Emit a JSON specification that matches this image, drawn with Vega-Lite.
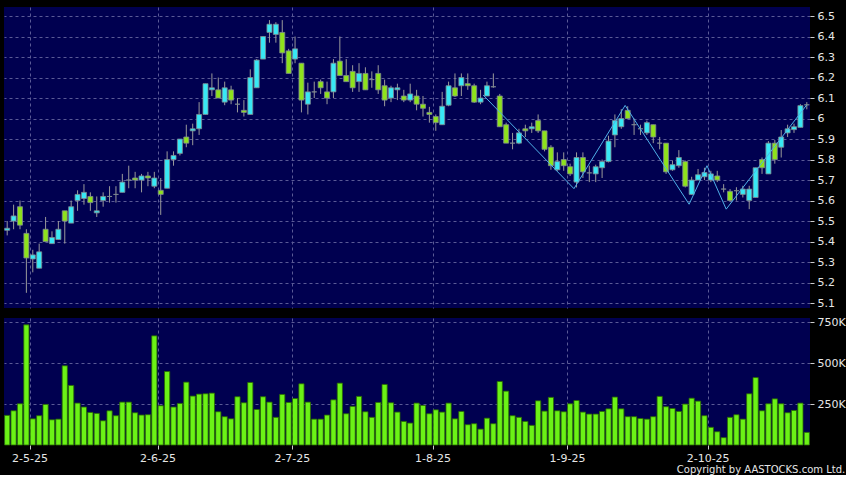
{
"$schema": "https://vega.github.io/schema/vega-lite/v6.json",
"background": "#000000",
"padding": {"left": 4, "top": 7, "right": 0, "bottom": 0},
"config": {
  "view": {"fill": "#000050", "stroke": null},
  "font": "DejaVu Sans",
  "axis": {"labelColor": "#e6e6e6", "labelFont": "DejaVu Sans", "labelFontSize": 11, "tickColor": "#cccccc", "domain": false, "gridColor": "#5a5a96", "gridDash": [3, 3], "gridWidth": 1, "title": null, "labelFlush": false, "labelOverlap": false}
},
"datasets": {
  "ohlc": [
    {"i":0,"o":5.455,"h":5.5,"l":5.43,"c":5.465,"v":181000},
    {"i":1,"o":5.5,"h":5.58,"l":5.46,"c":5.525,"v":209000},
    {"i":2,"o":5.57,"h":5.6,"l":5.46,"c":5.48,"v":252000},
    {"i":3,"o":5.44,"h":5.46,"l":5.15,"c":5.32,"v":734000},
    {"i":4,"o":5.315,"h":5.36,"l":5.25,"c":5.335,"v":160000},
    {"i":5,"o":5.27,"h":5.39,"l":5.27,"c":5.35,"v":179000},
    {"i":6,"o":5.46,"h":5.52,"l":5.4,"c":5.4,"v":248000},
    {"i":7,"o":5.39,"h":5.45,"l":5.39,"c":5.42,"v":154000},
    {"i":8,"o":5.41,"h":5.5,"l":5.41,"c":5.46,"v":158000},
    {"i":9,"o":5.55,"h":5.55,"l":5.39,"c":5.5,"v":484000},
    {"i":10,"o":5.49,"h":5.6,"l":5.49,"c":5.57,"v":364000},
    {"i":11,"o":5.6,"h":5.65,"l":5.55,"c":5.63,"v":256000},
    {"i":12,"o":5.61,"h":5.68,"l":5.58,"c":5.64,"v":232000},
    {"i":13,"o":5.62,"h":5.64,"l":5.55,"c":5.59,"v":199000},
    {"i":14,"o":5.54,"h":5.62,"l":5.52,"c":5.55,"v":193000},
    {"i":15,"o":5.6,"h":5.64,"l":5.57,"c":5.62,"v":148000},
    {"i":16,"o":5.62,"h":5.67,"l":5.59,"c":5.62,"v":209000},
    {"i":17,"o":5.63,"h":5.67,"l":5.59,"c":5.63,"v":179000},
    {"i":18,"o":5.64,"h":5.73,"l":5.64,"c":5.69,"v":262000},
    {"i":19,"o":5.7,"h":5.77,"l":5.66,"c":5.7,"v":262000},
    {"i":20,"o":5.71,"h":5.74,"l":5.66,"c":5.7,"v":197000},
    {"i":21,"o":5.7,"h":5.73,"l":5.64,"c":5.72,"v":183000},
    {"i":22,"o":5.72,"h":5.74,"l":5.67,"c":5.71,"v":185000},
    {"i":23,"o":5.67,"h":5.74,"l":5.66,"c":5.71,"v":667000},
    {"i":24,"o":5.65,"h":5.71,"l":5.53,"c":5.63,"v":240000},
    {"i":25,"o":5.66,"h":5.84,"l":5.66,"c":5.8,"v":449000},
    {"i":26,"o":5.8,"h":5.84,"l":5.77,"c":5.82,"v":232000},
    {"i":27,"o":5.83,"h":5.9,"l":5.82,"c":5.9,"v":254000},
    {"i":28,"o":5.91,"h":5.97,"l":5.86,"c":5.88,"v":384000},
    {"i":29,"o":5.94,"h":5.975,"l":5.87,"c":5.95,"v":299000},
    {"i":30,"o":5.95,"h":6.08,"l":5.92,"c":6.02,"v":311000},
    {"i":31,"o":6.02,"h":6.17,"l":6.02,"c":6.17,"v":313000},
    {"i":32,"o":6.14,"h":6.22,"l":6.11,"c":6.15,"v":317000},
    {"i":33,"o":6.14,"h":6.2,"l":6.1,"c":6.1,"v":203000},
    {"i":34,"o":6.08,"h":6.18,"l":6.065,"c":6.15,"v":173000},
    {"i":35,"o":6.14,"h":6.16,"l":6.07,"c":6.09,"v":160000},
    {"i":36,"o":6.07,"h":6.1,"l":6.03,"c":6.07,"v":295000},
    {"i":37,"o":6.04,"h":6.09,"l":6.01,"c":6.03,"v":258000},
    {"i":38,"o":6.02,"h":6.24,"l":6.02,"c":6.2,"v":382000},
    {"i":39,"o":6.15,"h":6.29,"l":6.15,"c":6.285,"v":217000},
    {"i":40,"o":6.29,"h":6.4,"l":6.29,"c":6.4,"v":295000},
    {"i":41,"o":6.42,"h":6.48,"l":6.37,"c":6.46,"v":262000},
    {"i":42,"o":6.41,"h":6.47,"l":6.37,"c":6.46,"v":169000},
    {"i":43,"o":6.42,"h":6.48,"l":6.27,"c":6.32,"v":309000},
    {"i":44,"o":6.33,"h":6.34,"l":6.22,"c":6.22,"v":260000},
    {"i":45,"o":6.29,"h":6.4,"l":6.27,"c":6.34,"v":284000},
    {"i":46,"o":6.27,"h":6.27,"l":6.03,"c":6.09,"v":374000},
    {"i":47,"o":6.07,"h":6.175,"l":6.02,"c":6.13,"v":262000},
    {"i":48,"o":6.13,"h":6.18,"l":6.1,"c":6.13,"v":158000},
    {"i":49,"o":6.18,"h":6.19,"l":6.12,"c":6.15,"v":158000},
    {"i":50,"o":6.13,"h":6.18,"l":6.07,"c":6.1,"v":183000},
    {"i":51,"o":6.13,"h":6.29,"l":6.1,"c":6.27,"v":276000},
    {"i":52,"o":6.28,"h":6.4,"l":6.21,"c":6.21,"v":378000},
    {"i":53,"o":6.21,"h":6.29,"l":6.18,"c":6.18,"v":191000},
    {"i":54,"o":6.23,"h":6.26,"l":6.13,"c":6.15,"v":236000},
    {"i":55,"o":6.18,"h":6.27,"l":6.13,"c":6.22,"v":297000},
    {"i":56,"o":6.22,"h":6.25,"l":6.14,"c":6.14,"v":203000},
    {"i":57,"o":6.19,"h":6.23,"l":6.15,"c":6.19,"v":169000},
    {"i":58,"o":6.22,"h":6.26,"l":6.12,"c":6.14,"v":260000},
    {"i":59,"o":6.16,"h":6.19,"l":6.06,"c":6.09,"v":370000},
    {"i":60,"o":6.1,"h":6.16,"l":6.08,"c":6.15,"v":258000},
    {"i":61,"o":6.14,"h":6.17,"l":6.09,"c":6.15,"v":201000},
    {"i":62,"o":6.11,"h":6.14,"l":6.08,"c":6.09,"v":144000},
    {"i":63,"o":6.09,"h":6.17,"l":6.08,"c":6.12,"v":134000},
    {"i":64,"o":6.11,"h":6.14,"l":6.04,"c":6.07,"v":256000},
    {"i":65,"o":6.07,"h":6.11,"l":6.01,"c":6.05,"v":242000},
    {"i":66,"o":6.03,"h":6.057,"l":5.98,"c":6.02,"v":191000},
    {"i":67,"o":6.01,"h":6.02,"l":5.94,"c":5.98,"v":215000},
    {"i":68,"o":5.97,"h":6.13,"l":5.97,"c":6.06,"v":201000},
    {"i":69,"o":6.065,"h":6.18,"l":6.06,"c":6.16,"v":256000},
    {"i":70,"o":6.15,"h":6.22,"l":6.105,"c":6.11,"v":160000},
    {"i":71,"o":6.16,"h":6.22,"l":6.11,"c":6.2,"v":205000},
    {"i":72,"o":6.17,"h":6.22,"l":6.14,"c":6.16,"v":124000},
    {"i":73,"o":6.16,"h":6.17,"l":6.076,"c":6.08,"v":130000},
    {"i":74,"o":6.08,"h":6.14,"l":6.07,"c":6.1,"v":97000},
    {"i":75,"o":6.11,"h":6.18,"l":6.11,"c":6.16,"v":164000},
    {"i":76,"o":6.155,"h":6.22,"l":6.15,"c":6.155,"v":130000},
    {"i":77,"o":6.11,"h":6.12,"l":5.96,"c":5.96,"v":388000},
    {"i":78,"o":5.97,"h":5.98,"l":5.88,"c":5.88,"v":329000},
    {"i":79,"o":5.88,"h":5.93,"l":5.85,"c":5.88,"v":179000},
    {"i":80,"o":5.88,"h":5.95,"l":5.875,"c":5.93,"v":169000},
    {"i":81,"o":5.95,"h":5.97,"l":5.91,"c":5.94,"v":144000},
    {"i":82,"o":5.95,"h":5.98,"l":5.93,"c":5.96,"v":120000},
    {"i":83,"o":5.99,"h":6.02,"l":5.93,"c":5.94,"v":270000},
    {"i":84,"o":5.94,"h":5.94,"l":5.84,"c":5.85,"v":207000},
    {"i":85,"o":5.86,"h":5.87,"l":5.75,"c":5.77,"v":291000},
    {"i":86,"o":5.75,"h":5.835,"l":5.745,"c":5.79,"v":209000},
    {"i":87,"o":5.8,"h":5.835,"l":5.745,"c":5.77,"v":203000},
    {"i":88,"o":5.765,"h":5.78,"l":5.72,"c":5.73,"v":252000},
    {"i":89,"o":5.69,"h":5.835,"l":5.664,"c":5.81,"v":272000},
    {"i":90,"o":5.81,"h":5.835,"l":5.71,"c":5.74,"v":201000},
    {"i":91,"o":5.735,"h":5.77,"l":5.69,"c":5.735,"v":189000},
    {"i":92,"o":5.73,"h":5.775,"l":5.69,"c":5.765,"v":189000},
    {"i":93,"o":5.76,"h":5.8,"l":5.71,"c":5.79,"v":205000},
    {"i":94,"o":5.79,"h":5.916,"l":5.786,"c":5.89,"v":221000},
    {"i":95,"o":5.92,"h":6.02,"l":5.86,"c":5.99,"v":293000},
    {"i":96,"o":5.96,"h":6.046,"l":5.95,"c":6.0,"v":221000},
    {"i":97,"o":6.04,"h":6.06,"l":6.0,"c":6.0,"v":173000},
    {"i":98,"o":5.97,"h":6.0,"l":5.92,"c":5.97,"v":173000},
    {"i":99,"o":5.95,"h":5.97,"l":5.92,"c":5.95,"v":162000},
    {"i":100,"o":5.93,"h":5.99,"l":5.92,"c":5.98,"v":158000},
    {"i":101,"o":5.97,"h":5.97,"l":5.88,"c":5.91,"v":173000},
    {"i":102,"o":5.88,"h":5.91,"l":5.85,"c":5.88,"v":297000},
    {"i":103,"o":5.88,"h":5.88,"l":5.73,"c":5.74,"v":234000},
    {"i":104,"o":5.75,"h":5.795,"l":5.745,"c":5.775,"v":223000},
    {"i":105,"o":5.77,"h":5.846,"l":5.76,"c":5.81,"v":205000},
    {"i":106,"o":5.79,"h":5.795,"l":5.664,"c":5.67,"v":250000},
    {"i":107,"o":5.63,"h":5.716,"l":5.628,"c":5.7,"v":286000},
    {"i":108,"o":5.7,"h":5.754,"l":5.7,"c":5.726,"v":268000},
    {"i":109,"o":5.716,"h":5.76,"l":5.7,"c":5.737,"v":179000},
    {"i":110,"o":5.7,"h":5.745,"l":5.69,"c":5.73,"v":108000},
    {"i":111,"o":5.72,"h":5.745,"l":5.69,"c":5.7,"v":81000},
    {"i":112,"o":5.656,"h":5.68,"l":5.64,"c":5.656,"v":45000},
    {"i":113,"o":5.645,"h":5.656,"l":5.594,"c":5.6,"v":169000},
    {"i":114,"o":5.648,"h":5.665,"l":5.6,"c":5.648,"v":185000},
    {"i":115,"o":5.63,"h":5.672,"l":5.615,"c":5.656,"v":158000},
    {"i":116,"o":5.6,"h":5.672,"l":5.558,"c":5.656,"v":313000},
    {"i":117,"o":5.615,"h":5.76,"l":5.615,"c":5.76,"v":412000},
    {"i":118,"o":5.8,"h":5.81,"l":5.73,"c":5.76,"v":209000},
    {"i":119,"o":5.73,"h":5.89,"l":5.73,"c":5.88,"v":252000},
    {"i":120,"o":5.88,"h":5.895,"l":5.78,"c":5.8,"v":282000},
    {"i":121,"o":5.86,"h":5.944,"l":5.81,"c":5.91,"v":252000},
    {"i":122,"o":5.93,"h":5.97,"l":5.91,"c":5.95,"v":197000},
    {"i":123,"o":5.946,"h":5.975,"l":5.93,"c":5.96,"v":211000},
    {"i":124,"o":5.957,"h":6.07,"l":5.957,"c":6.063,"v":256000},
    {"i":125,"o":6.067,"h":6.08,"l":6.045,"c":6.067,"v":77000}
  ],
  "zz": [
    {"i":74.4,"p":6.115},
    {"i":88.6,"p":5.658},
    {"i":96.6,"p":6.064},
    {"i":106.6,"p":5.582},
    {"i":109.4,"p":5.77},
    {"i":112.4,"p":5.558},
    {"i":125.0,"p":6.067}
  ]
},
"title": {"text": "Copyright by AASTOCKS.com Ltd.", "orient": "bottom", "anchor": "end", "frame": "bounds", "font": "DejaVu Sans", "fontSize": 10, "fontWeight": "normal", "color": "#e6e6e6", "offset": 2},
"spacing": 10,
"bounds": "flush",
"vconcat": [
  {
    "width": 806, "height": 301,
    "data": {"name": "ohlc"},
    "encoding": {
      "x": {"field": "i", "type": "quantitative", "scale": {"domain": [-0.5, 125.5], "nice": false, "zero": false, "padding": 0},
            "axis": {"values": [3.5, 23.5, 44.5, 66.5, 87.5, 109.5], "tickCount": 20, "labels": false, "ticks": false, "grid": true}}
    },
    "layer": [
      {"mark": {"type": "rule", "color": "#9a9a9a", "strokeWidth": 1},
       "encoding": {
         "y": {"field": "l", "type": "quantitative", "scale": {"domain": [5.076, 6.544], "nice": false, "zero": false},
               "axis": {"orient": "right", "values": [5.1, 5.2, 5.3, 5.4, 5.5, 5.6, 5.7, 5.8, 5.9, 6.0, 6.1, 6.2, 6.3, 6.4, 6.5], "tickCount": 30, "format": "~g", "tickSize": 4, "labelPadding": 3, "grid": true, "labelOverlap": false, "labelBound": false}},
         "y2": {"field": "h"}
       }},
      {"mark": {"type": "bar", "width": 5, "stroke": "#7f8a90", "strokeWidth": 0.8},
       "encoding": {
         "y": {"field": "o", "type": "quantitative"},
         "y2": {"field": "c"},
         "fill": {"condition": [{"test": "datum.c > datum.o", "value": "#38e8f5"}, {"test": "datum.c < datum.o", "value": "#8ee21c"}], "value": "#9ab0c0"}
       }},
      {"data": {"name": "zz"},
       "mark": {"type": "line", "color": "#4fb0e8", "strokeWidth": 1},
       "encoding": {"x": {"field": "i", "type": "quantitative"}, "y": {"field": "p", "type": "quantitative"}}}
    ]
  },
  {
    "width": 806, "height": 127,
    "data": {"name": "ohlc"},
    "mark": {"type": "bar", "width": 5.2, "fill": "#6bf216", "stroke": "#2a6a00", "strokeWidth": 0.8},
    "encoding": {
      "x": {"field": "i", "type": "quantitative", "scale": {"domain": [-0.5, 125.5], "nice": false, "zero": false, "padding": 0},
            "axis": {"values": [3.5, 23.5, 44.5, 66.5, 87.5, 109.5], "tickCount": 20, "grid": true, "tickSize": 4, "labelPadding": 3,
                     "labelExpr": "datum.value < 10 ? '2-5-25' : datum.value < 30 ? '2-6-25' : datum.value < 50 ? '2-7-25' : datum.value < 70 ? '1-8-25' : datum.value < 90 ? '1-9-25' : '2-10-25'"}},
      "y": {"field": "v", "type": "quantitative", "scale": {"domain": [0, 776000], "nice": false},
            "axis": {"orient": "right", "values": [250000, 500000, 750000], "tickCount": 10, "labelExpr": "datum.value / 1000 + 'K'", "tickSize": 4, "labelPadding": 3, "grid": true}}
    }
  }
]
}
